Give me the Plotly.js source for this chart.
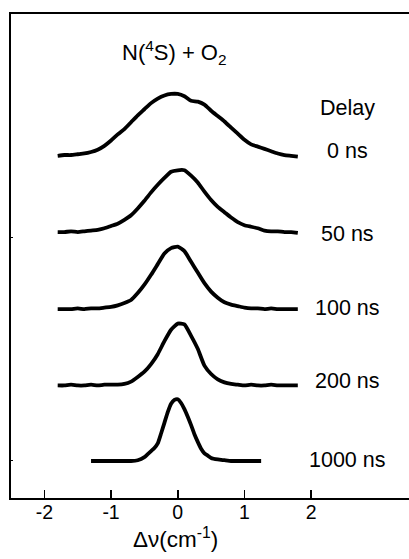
<!DOCTYPE html>
<html>
<head>
<meta charset="utf-8">
<script src="https://cdn.plot.ly/plotly-3.0.1.min.js"></script>
<style>html,body{margin:0;padding:0;background:#fff;}#chart{width:409px;height:559px;}</style>
</head>
<body>
<div id="chart"></div>
<script>
// Frequency offset (cm^-1) for the four wide scans
var dv = [-1.8,-1.7,-1.6,-1.5,-1.4,-1.3,-1.2,-1.1,-1.0,-0.9,-0.8,-0.7,-0.6,-0.5,-0.4,-0.3,-0.2,-0.1,0.0,
          0.1,0.2,0.3,0.4,0.5,0.6,0.7,0.8,0.9,1.0,1.1,1.2,1.3,1.4,1.5,1.6,1.7,1.8];
// Frequency offset for the 1000 ns scan
var dv1000 = [-1.3,-1.2,-1.1,-1.0,-0.9,-0.8,-0.7,-0.6,-0.5,-0.45,-0.4,-0.35,-0.3,-0.25,-0.2,-0.15,-0.1,-0.05,0.0,
              0.05,0.1,0.15,0.2,0.25,0.3,0.35,0.4,0.45,0.5,0.6,0.7,0.8,0.9,1.0,1.1,1.2,1.25];

// Stacked Doppler profiles (offset intensity, arb. units)
var y0ns = [4.00,4.01,4.01,4.02,4.03,4.05,4.08,4.13,4.20,4.28,4.35,4.44,4.53,4.61,4.69,4.75,4.79,4.81,4.81,
            4.78,4.72,4.71,4.67,4.59,4.52,4.45,4.37,4.29,4.21,4.15,4.12,4.09,4.06,4.03,4.01,4.00,3.99];
var y50ns = [3.00,3.00,3.01,3.00,3.01,3.02,3.03,3.05,3.08,3.11,3.16,3.22,3.31,3.41,3.52,3.62,3.71,3.79,3.81,
             3.81,3.74,3.65,3.53,3.42,3.33,3.26,3.19,3.13,3.09,3.07,3.05,3.02,3.01,3.01,3.00,3.00,2.99];
var y100ns = [1.99,1.99,1.99,2.00,1.99,2.00,2.00,2.01,2.02,2.04,2.07,2.11,2.20,2.31,2.44,2.58,2.72,2.79,2.81,
              2.75,2.61,2.47,2.33,2.22,2.14,2.08,2.05,2.03,2.01,2.00,2.00,1.99,2.00,1.99,1.99,1.99,1.99];
var y200ns = [0.99,0.99,1.00,0.99,0.99,1.00,0.99,1.00,1.00,1.00,1.01,1.04,1.10,1.17,1.27,1.40,1.57,1.72,1.80,
              1.79,1.64,1.47,1.25,1.14,1.07,1.03,1.01,1.00,0.99,1.00,0.99,0.99,1.00,0.99,0.99,0.99,0.99];
var y1000ns = [0.00,0.00,0.00,0.00,0.00,0.00,0.00,0.01,0.05,0.09,0.13,0.17,0.23,0.36,0.50,0.64,0.75,0.80,0.81,
               0.76,0.68,0.58,0.47,0.35,0.25,0.16,0.10,0.07,0.04,0.02,0.01,0.00,0.00,0.00,0.00,0.00,0.00];

var delayLabels = ["0 ns","50 ns","100 ns","200 ns","1000 ns"];
var labelY = [4.06, 2.98, 2.0, 1.05, 0.01];
var xTicks = [-2,-1,0,1,2];
var yTicks = [0, 2.93];

var FONT = "Liberation Sans, Arial, sans-serif";
var series = [[dv,y0ns],[dv,y50ns],[dv,y100ns],[dv,y200ns],[dv1000,y1000ns]];
var traces = series.map(function(s){
  return {x:s[0], y:s[1], mode:"lines", type:"scatter",
          line:{color:"#000", width:3.8, shape:"spline", smoothing:0.5},
          hoverinfo:"skip", showlegend:false};
});

var annotations = delayLabels.map(function(t,i){
  return {text:t, x:2.54, y:labelY[i], xref:"x", yref:"y", showarrow:false,
          xanchor:"center", yanchor:"middle", font:{family:FONT, size:21.5, color:"#000"}};
});
annotations.push({text:"Delay", x:2.54, y:4.63, xref:"x", yref:"y", showarrow:false,
  xanchor:"center", yanchor:"middle", font:{family:FONT, size:21.5, color:"#000"}});
annotations.push({text:"N(<sup>4</sup>S) + O<sub>2</sub>", x:-0.055, y:5.35, xref:"x", yref:"y", showarrow:false,
  xanchor:"center", yanchor:"middle", font:{family:FONT, size:22, color:"#000"}});
annotations.push({text:"\u0394\u03bd(cm<sup>-1</sup>)", x:0.413, y:-0.082, xref:"paper", yref:"paper", showarrow:false,
  xanchor:"center", yanchor:"middle", font:{family:FONT, size:22.5, color:"#000"}});

var layout = {
  width:409, height:559,
  margin:{l:11, r:0, t:14, b:61, pad:0},
  paper_bgcolor:"#fff", plot_bgcolor:"#fff",
  xaxis:{range:[-2.5,3.467], tickvals:xTicks, ticktext:xTicks.map(String),
         ticks:"inside", ticklen:8, tickwidth:1.5, tickcolor:"#000",
         showline:true, linecolor:"#000", linewidth:2, mirror:true,
         showgrid:false, zeroline:false, ticklabelstandoff:-4,
         tickfont:{family:FONT, size:19.5, color:"#000"}},
  yaxis:{range:[-0.485,5.858], tickvals:yTicks, ticks:"inside", ticklen:2, tickwidth:1, tickcolor:"#000",
         showticklabels:false, showline:true, linecolor:"#000", linewidth:2,
         showgrid:false, zeroline:false},
  annotations:annotations
};
Plotly.newPlot("chart", traces, layout, {staticPlot:true, displayModeBar:false});
</script>
</body>
</html>
